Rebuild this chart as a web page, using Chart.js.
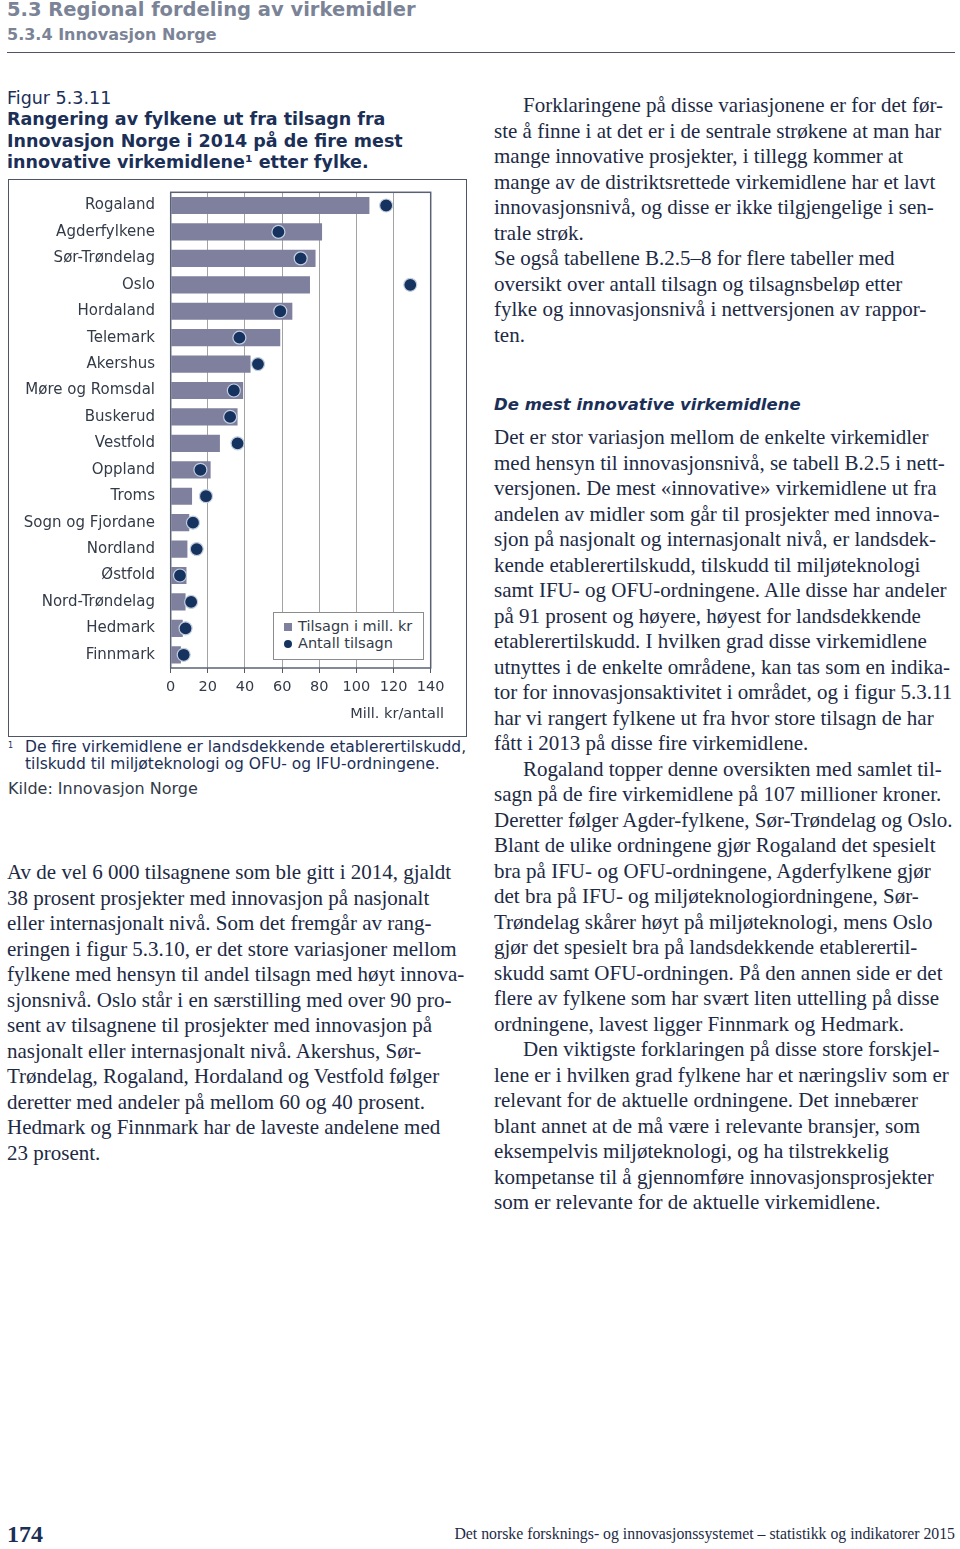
<!DOCTYPE html>
<html lang="no">
<head>
<meta charset="utf-8">
<title>Figur 5.3.11</title>
<script src="https://cdn.jsdelivr.net/npm/chart.js@4/dist/chart.umd.min.js"></script>
<style>
  html, body { margin: 0; padding: 0; background: #fff; }
  body { width: 960px; height: 1549px; position: relative; overflow: hidden; }
  .abs { position: absolute; white-space: nowrap; }
  .sans { font-family: "DejaVu Sans", Verdana, sans-serif; }
  .serif { font-family: "Liberation Serif", "Times New Roman", serif; color: #1d2a45; font-size: 21px; line-height: 25.5px; }
  .h1 { left: 7px; top: -3px; font-size: 19.5px; font-weight: bold; color: #7b8396; line-height: 26px; }
  .h2 { left: 7px; top: 25px; font-size: 16px; font-weight: bold; color: #7b8396; line-height: 20px; }
  .rule { position: absolute; left: 7px; top: 52px; width: 948px; height: 0; border-top: 1.5px solid #4f5566; }
  .fig { left: 7px; top: 88px; font-size: 17.5px; color: #1b2f57; line-height: 21.5px; }
  .ftitle { left: 7px; top: 109px; font-size: 17.5px; font-weight: bold; color: #1b2f57; line-height: 21.5px; }
  #chartBox { position: absolute; left: 8px; top: 179px; width: 457px; height: 556px; border: 1px solid #4d5566; }
  #chartBox canvas { position: absolute; left: 0; top: 0; }
  .legend { position: absolute; left: 273px; top: 612px; width: 149px; height: 46px; border: 1px solid #8c8c8c; background: #fff; font-size: 14.5px; color: #333a48; }
  .legend .row { position: absolute; left: 0; height: 17px; line-height: 17px; white-space: nowrap; }
  .legend .sq { position: absolute; left: 10px; top: 5px; width: 8px; height: 8px; background: #7f809e; }
  .legend .dot { position: absolute; left: 10px; top: 5px; width: 8px; height: 8px; border-radius: 50%; background: #16335f; }
  .legend .txt { position: absolute; left: 24px; top: 0; }
  .axtitle { right: 516px; top: 704px; font-size: 14.5px; color: #333a48; line-height: 18px; }
  .note { left: 8px; top: 739px; font-size: 15.5px; color: #1b2f57; line-height: 17px; }
  .note sup { font-size: 8px; position: absolute; left: 0; top: -2px; }
  .src { left: 8px; top: 780px; font-size: 16px; color: #333a48; line-height: 18px; }
  .sub { left: 494px; top: 395px; font-size: 16.5px; font-weight: bold; font-style: italic; color: #1b2f57; line-height: 20px; }
  .pnum { left: 7px; top: 1520px; font-family: "Liberation Serif", serif; font-weight: bold; font-size: 24px; color: #1b2f57; line-height: 28px; }
  .foot { right: 5px; top: 1525px; font-family: "Liberation Serif", serif; font-size: 15.8px; color: #1d2a45; line-height: 18px; }
  .ind { padding-left: 29px; }
</style>
</head>
<body>

<div class="abs sans h1">5.3 Regional fordeling av virkemidler</div>
<div class="abs sans h2">5.3.4 Innovasjon Norge</div>
<div class="rule"></div>

<div class="abs sans fig">Figur 5.3.11</div>
<div class="abs sans ftitle">Rangering av fylkene ut fra tilsagn fra<br>Innovasjon Norge i 2014 på de fire mest<br>innovative virkemidlene¹ etter fylke.</div>

<div id="chartBox">
  <canvas id="fylkeChart" width="457" height="556"></canvas>
</div>

<div class="legend sans">
  <div class="row" style="top:5px;"><span class="sq"></span><span class="txt">Tilsagn i mill. kr</span></div>
  <div class="row" style="top:22px;"><span class="dot"></span><span class="txt">Antall tilsagn</span></div>
</div>
<div class="abs sans axtitle">Mill. kr/antall</div>

<div class="abs sans note"><sup>1</sup><div style="padding-left:17px;">De fire virkemidlene er landsdekkende etablerertilskudd,<br>tilskudd til miljøteknologi og OFU- og IFU-ordningene.</div></div>
<div class="abs sans src">Kilde: Innovasjon Norge</div>

<!-- left column text -->
<div class="abs serif" style="left:7px; top:860px;">
Av de vel 6 000 tilsagnene som ble gitt i 2014, gjaldt<br>
38 prosent prosjekter med innovasjon på nasjonalt<br>
eller internasjonalt nivå. Som det fremgår av rang-<br>
eringen i figur 5.3.10, er det store variasjoner mellom<br>
fylkene med hensyn til andel tilsagn med høyt innova-<br>
sjonsnivå. Oslo står i en særstilling med over 90 pro-<br>
sent av tilsagnene til prosjekter med innovasjon på<br>
nasjonalt eller internasjonalt nivå. Akershus, Sør-<br>
Trøndelag, Rogaland, Hordaland og Vestfold følger<br>
deretter med andeler på mellom 60 og 40 prosent.<br>
Hedmark og Finnmark har de laveste andelene med<br>
23 prosent.
</div>

<!-- right column text -->
<div class="abs serif" style="left:494px; top:93px;">
<span class="ind"></span>Forklaringene på disse variasjonene er for det før-<br>
ste å finne i at det er i de sentrale strøkene at man har<br>
mange innovative prosjekter, i tillegg kommer at<br>
mange av de distriktsrettede virkemidlene har et lavt<br>
innovasjonsnivå, og disse er ikke tilgjengelige i sen-<br>
trale strøk.<br>
Se også tabellene B.2.5–8 for flere tabeller med<br>
oversikt over antall tilsagn og tilsagnsbeløp etter<br>
fylke og innovasjonsnivå i nettversjonen av rappor-<br>
ten.
</div>

<div class="abs sans sub">De mest innovative virkemidlene</div>

<div class="abs serif" style="left:494px; top:425px;">
Det er stor variasjon mellom de enkelte virkemidler<br>
med hensyn til innovasjonsnivå, se tabell B.2.5 i nett-<br>
versjonen. De mest «innovative» virkemidlene ut fra<br>
andelen av midler som går til prosjekter med innova-<br>
sjon på nasjonalt og internasjonalt nivå, er landsdek-<br>
kende etablerertilskudd, tilskudd til miljøteknologi<br>
samt IFU- og OFU-ordningene. Alle disse har andeler<br>
på 91 prosent og høyere, høyest for landsdekkende<br>
etablerertilskudd. I hvilken grad disse virkemidlene<br>
utnyttes i de enkelte områdene, kan tas som en indika-<br>
tor for innovasjonsaktivitet i området, og i figur 5.3.11<br>
har vi rangert fylkene ut fra hvor store tilsagn de har<br>
fått i 2013 på disse fire virkemidlene.<br>
<span class="ind"></span>Rogaland topper denne oversikten med samlet til-<br>
sagn på de fire virkemidlene på 107 millioner kroner.<br>
Deretter følger Agder-fylkene, Sør-Trøndelag og Oslo.<br>
Blant de ulike ordningene gjør Rogaland det spesielt<br>
bra på IFU- og OFU-ordningene, Agderfylkene gjør<br>
det bra på IFU- og miljøteknologiordningene, Sør-<br>
Trøndelag skårer høyt på miljøteknologi, mens Oslo<br>
gjør det spesielt bra på landsdekkende etablerertil-<br>
skudd samt OFU-ordningen. På den annen side er det<br>
flere av fylkene som har svært liten uttelling på disse<br>
ordningene, lavest ligger Finnmark og Hedmark.<br>
<span class="ind"></span>Den viktigste forklaringen på disse store forskjel-<br>
lene er i hvilken grad fylkene har et næringsliv som er<br>
relevant for de aktuelle ordningene. Det innebærer<br>
blant annet at de må være i relevante bransjer, som<br>
eksempelvis miljøteknologi, og ha tilstrekkelig<br>
kompetanse til å gjennomføre innovasjonsprosjekter<br>
som er relevante for de aktuelle virkemidlene.
</div>

<div class="abs pnum">174</div>
<div class="abs foot">Det norske forsknings- og innovasjonssystemet – statistikk og indikatorer 2015</div>

<script>
// ================= Data =================
const fylker = ['Rogaland', 'Agderfylkene', 'Sør-Trøndelag', 'Oslo', 'Hordaland', 'Telemark',
    'Akershus', 'Møre og Romsdal', 'Buskerud', 'Vestfold', 'Oppland', 'Troms',
    'Sogn og Fjordane', 'Nordland', 'Østfold', 'Nord-Trøndelag', 'Hedmark', 'Finnmark'];

// Tilsagn i mill. kr
const tilsagnMill = [107, 81.5, 78, 75, 65.5, 59, 43, 39, 36, 26.5, 21.5, 11.5, 10, 9, 8.5, 8, 6.5, 5.5];

// Antall tilsagn
const antallTilsagn = [116, 58, 70, 129, 59, 37, 47, 34, 32, 36, 16, 19, 12, 14, 5, 11, 8, 7];

const xTicks = [0, 20, 40, 60, 80, 100, 120, 140];

// ================= Chart =================
document.addEventListener("DOMContentLoaded", function() {
    const el = document.getElementById('fylkeChart');
    const ctx = el.getContext('2d');

    // frame round the plot area
    const plotFrame = {
        id: 'plotFrame',
        beforeDatasetsDraw(chart) {
            const a = chart.chartArea;
            const c = chart.ctx;
            c.save();
            c.strokeStyle = '#5a6272';
            c.lineWidth = 1.5;
            c.strokeRect(a.left, a.top, a.right - a.left, a.bottom - a.top);
            c.restore();
        }
    };

    new Chart(ctx, {
        type: 'bar',
        data: {
            labels: fylker,
            datasets: [
                {
                    type: 'line',
                    label: 'Antall tilsagn',
                    data: antallTilsagn,
                    indexAxis: 'y',
                    showLine: false,
                    pointRadius: 6.5,
                    pointHoverRadius: 6.5,
                    backgroundColor: '#16335f',
                    borderColor: '#c3cfe0',
                    pointBorderWidth: 1.2,
                    order: 1
                },
                {
                    label: 'Tilsagn i mill. kr',
                    data: tilsagnMill,
                    backgroundColor: '#7f809e',
                    borderWidth: 0,
                    barPercentage: 0.65,
                    categoryPercentage: 1,
                    order: 2
                }
            ]
        },
        options: {
            indexAxis: 'y',
            responsive: false,
            maintainAspectRatio: false,
            animation: false,
            layout: { padding: { top: 12.3, right: 35.3, left: 0, bottom: 0 } },
            plugins: { legend: { display: false }, tooltip: { enabled: false } },
            scales: {
                x: {
                    min: 0,
                    max: 140,
                    afterBuildTicks: function(scale) {
                        scale.ticks = xTicks.map(v => ({ value: v }));
                    },
                    afterFit: function(scale) {
                        scale.height = 68;
                        scale.paddingLeft = 0;
                        scale.paddingRight = 0;
                    },
                    grid: { color: '#a3a3a3', lineWidth: 1, tickLength: 5, tickColor: '#555b66' },
                    border: { display: false },
                    ticks: {
                        padding: 6,
                        color: '#333a48',
                        font: { family: 'DejaVu Sans', size: 14.5 }
                    }
                },
                y: {
                    afterFit: function(scale) {
                        scale.width = 161.7;
                        scale.paddingTop = 0;
                        scale.paddingBottom = 0;
                    },
                    grid: { display: false, drawTicks: false },
                    border: { display: false },
                    ticks: {
                        padding: 15.7,
                        color: '#333a48',
                        font: { family: 'DejaVu Sans', size: 15 }
                    }
                }
            }
        },
        plugins: [plotFrame]
    });
});
</script>
</body>
</html>
